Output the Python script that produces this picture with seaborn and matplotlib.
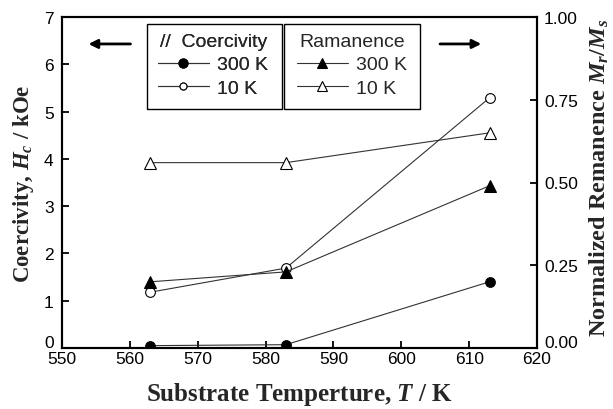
import matplotlib
matplotlib.use("Agg")
import matplotlib.pyplot as plt
import matplotlib.transforms as mtransforms
from matplotlib.patches import Rectangle
import seaborn as sns
import pandas as pd
from matplotlib.lines import Line2D

temps = [563, 583, 613]
coer_300K = [0.05, 0.07, 1.40]
coer_10K = [1.18, 1.69, 5.29]
rem_300K = [0.20, 0.23, 0.49]
rem_10K = [0.56, 0.56, 0.65]
x_ticks = [550, 560, 570, 580, 590, 600, 610, 620]
left_ticks = [0, 1, 2, 3, 4, 5, 6, 7]
right_ticks = [0.00, 0.25, 0.50, 0.75, 1.00]

sns.set_style("ticks")
plt.rcParams['font.family'] = ['Liberation Sans', 'DejaVu Sans']
plt.rcParams['mathtext.fontset'] = 'custom'
plt.rcParams['mathtext.rm'] = 'Liberation Serif:bold'
plt.rcParams['mathtext.bf'] = 'Liberation Serif:bold'
plt.rcParams['mathtext.it'] = 'Liberation Serif:italic:bold'
plt.rcParams['mathtext.bfit'] = 'Liberation Serif:italic:bold'

fig = plt.figure(figsize=(6.13, 4.10), dpi=100)
ax = fig.add_axes([62/613, 1-349/410, 475/613, 331/410])
ax2 = ax.twinx()

df = pd.DataFrame({"T": temps, "c300": coer_300K, "c10": coer_10K,
                   "r300": rem_300K, "r10": rem_10K})

lc = "#333333"
lw = 0.8
ms = 7
sns.lineplot(data=df, x="T", y="c300", ax=ax, color=lc, lw=lw, marker="o",
             markersize=ms, markerfacecolor="black", markeredgecolor="black")
sns.lineplot(data=df, x="T", y="c10", ax=ax, color=lc, lw=lw, marker="o",
             markersize=ms, markerfacecolor="white", markeredgecolor="black", markeredgewidth=0.8)
sns.lineplot(data=df, x="T", y="r300", ax=ax2, color=lc, lw=lw, marker="^",
             markersize=ms + 1, markerfacecolor="black", markeredgecolor="black")
sns.lineplot(data=df, x="T", y="r10", ax=ax2, color=lc, lw=lw, marker="^",
             markersize=ms + 1, markerfacecolor="white", markeredgecolor="black", markeredgewidth=0.8)

ax.set_xlim(550, 620)
ax.set_ylim(0, 7)
ax2.set_ylim(0, 1)
ax.set_xticks(x_ticks)
ax.set_yticks(left_ticks)
ax2.set_yticks(right_ticks)
ax2.set_yticklabels([f"{v:.2f}" for v in right_ticks])

for a in (ax, ax2):
    for s in a.spines.values():
        s.set_linewidth(1.5)
        s.set_color("black")
ax.tick_params(axis="x", direction="in", length=5, width=1.3, labelsize=12.5, pad=2, colors="black")
ax.tick_params(axis="y", direction="in", length=5, width=1.3, labelsize=12.5, pad=6, colors="black")
ax2.tick_params(axis="y", direction="in", length=5, width=1.3, labelsize=12.5, pad=5, colors="black")

serif = ['Liberation Serif', 'DejaVu Serif']
ax.set_xlabel(r"Substrate Temperture, $T$ / K", fontsize=18, fontweight="bold",
              family=serif, labelpad=10)
ax.set_ylabel(r"Coercivity, $H_c$ / kOe", fontsize=16.5, fontweight="bold",
              family=serif, labelpad=6)
ax2.set_ylabel(r"Normalized Remanence $M_r/M_s$",
               fontsize=17.5, fontweight="bold", family=serif)
ax2.yaxis.set_label_coords(1 + (588 - 537) / 475, (349 - 178) / 331)

# raise the "0" labels slightly as in the reference
fig.canvas.draw()
off = mtransforms.ScaledTranslation(0, 5/72, fig.dpi_scale_trans)
for lab in (ax.get_yticklabels()[0], ax2.get_yticklabels()[0]):
    lab.set_transform(lab.get_transform() + off)

def h(marker, fc, size):
    return Line2D([], [], color=lc, lw=lw, marker=marker, markersize=size,
                  markerfacecolor=fc, markeredgecolor="black", markeredgewidth=0.8)

leg_kw = dict(fontsize=14, title_fontsize=14, frameon=False,
              handlelength=2.6, handletextpad=0.45, borderpad=0,
              labelspacing=0.3, borderaxespad=0, loc="upper left")
top = 1 - (34 - 18) / 331
leg1 = ax.legend([h("o", "black", 6.5), h("o", "white", 5)], ["300 K", "10 K"],
                 title="//  Coercivity", bbox_to_anchor=((158 - 62) / 475, top), **leg_kw)
ax.add_artist(leg1)
leg2 = ax2.legend([h("^", "black", 7), h("^", "white", 7)], ["300 K", "10 K"],
                  title="Ramanence", bbox_to_anchor=((297 - 62) / 475, top), **leg_kw)

for x0, x1 in ((147, 282), (284, 420)):
    ax.add_patch(Rectangle(((x0 - 62) / 475, 1 - (110 - 18) / 331), (x1 - x0) / 475,
                           (110 - 25) / 331, transform=ax.transAxes, fill=False,
                           edgecolor="black", lw=1.0, zorder=5, clip_on=False))

ax.annotate("", xy=(553.5, 6.43), xytext=(560.5, 6.43),
            arrowprops=dict(arrowstyle="-|>", color="black", lw=2.0, mutation_scale=13))
ax.annotate("", xy=(612.2, 6.43), xytext=(605.3, 6.43),
            arrowprops=dict(arrowstyle="-|>", color="black", lw=2.0, mutation_scale=13))

fig.savefig("out.png", dpi=100)
